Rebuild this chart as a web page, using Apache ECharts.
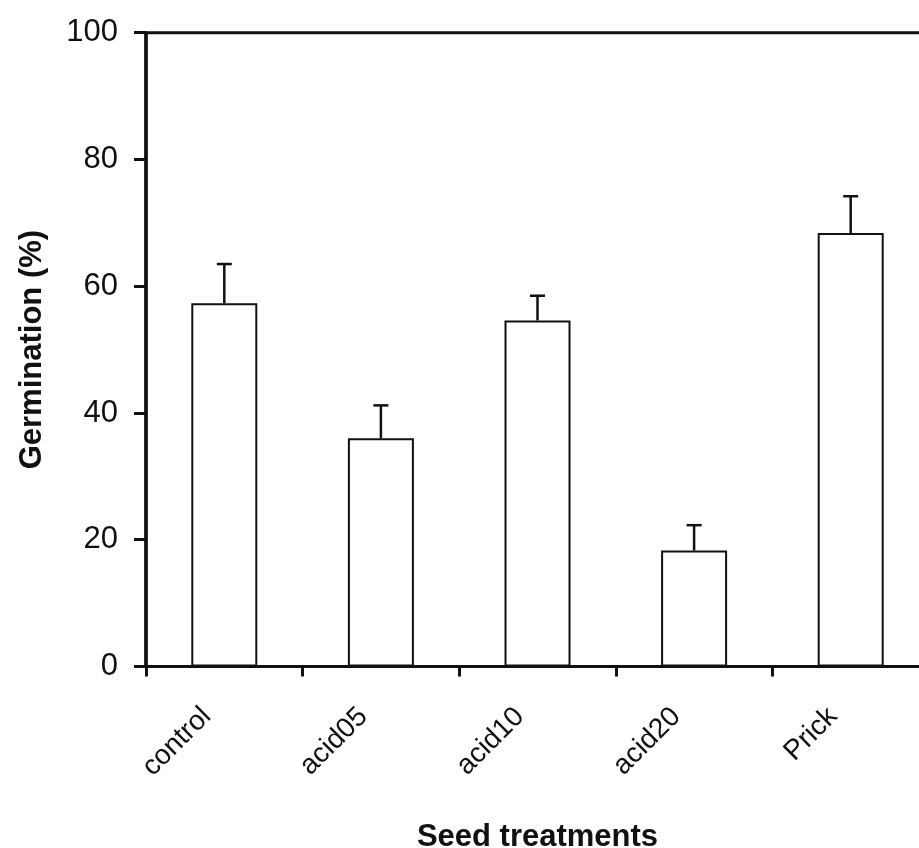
<!DOCTYPE html>
<html>
<head>
<meta charset="utf-8">
<script src="https://cdn.jsdelivr.net/npm/echarts@6/dist/echarts.min.js"></script>
<style>
html,body{margin:0;padding:0;background:#fff;overflow:hidden;}
#wrap{position:absolute;left:0;top:0;width:919px;height:848px;overflow:hidden;}
#chart{position:absolute;left:0;top:0;width:919px;height:848px;}
</style>
</head>
<body>
<div id="wrap"><div id="chart"></div></div>
<script>
var categories = ['control', 'acid05', 'acid10', 'acid20', 'Prick'];
var germination = [57.3, 36.0, 54.6, 18.3, 68.4];
var upperError = [6.2, 5.2, 3.9, 4.0, 5.8];
var yTicks = [0, 20, 40, 60, 80, 100];

var FONT = 'Liberation Sans, Arial, sans-serif';
var INK = '#111';

var errData = categories.map(function (c, i) {
  return [i, germination[i], germination[i] + upperError[i]];
});

var chart = echarts.init(document.getElementById('chart'), null, { width: 929, height: 848 });
chart.setOption({
  animation: false,
  backgroundColor: '#fff',
  grid: {
    left: 146, right: 0, top: 32.7, bottom: 181.5,
    outerBoundsMode: 'none',
    containLabel: false,
    show: true, borderColor: INK, borderWidth: 3, backgroundColor: 'transparent'
  },
  xAxis: {
    type: 'category',
    data: categories,
    name: 'Seed treatments',
    nameLocation: 'middle',
    nameGap: 155,
    nameTextStyle: { fontFamily: FONT, fontSize: 31, fontWeight: 'bold', color: INK },
    axisLine: { lineStyle: { color: INK, width: 3 } },
    axisTick: { show: true, length: 10, lineStyle: { color: INK, width: 3 } },
    axisLabel: {
      rotate: 45, margin: 28, padding: [0, 25, 0, 0],
      fontFamily: FONT, fontSize: 28, color: INK
    },
    splitLine: { show: false }
  },
  yAxis: {
    type: 'value',
    min: yTicks[0], max: yTicks[yTicks.length - 1], interval: yTicks[1] - yTicks[0],
    name: 'Germination (%)',
    nameLocation: 'middle',
    nameGap: 98,
    nameRotate: 90,
    nameTextStyle: { fontFamily: FONT, fontSize: 31, fontWeight: 'bold', color: INK },
    axisLine: { show: true, lineStyle: { color: INK, width: 3.5 } },
    axisTick: { show: true, length: 12, lineStyle: { color: INK, width: 3 } },
    axisLabel: { margin: 28, fontFamily: FONT, fontSize: 31, color: INK },
    splitLine: { show: false }
  },
  series: [
    {
      type: 'bar',
      data: germination,
      barWidth: 66,
      itemStyle: { color: '#fff', borderColor: INK, borderWidth: 2 },
      z: 2
    },
    {
      type: 'custom',
      data: errData,
      z: 3,
      renderItem: function (params, api) {
        var x = api.value(0);
        var base = api.coord([x, api.value(1)]);
        var top = api.coord([x, api.value(2)]);
        var half = 7.5;
        var style = { stroke: INK, lineWidth: 2.5 };
        return {
          type: 'group',
          children: [
            { type: 'line', shape: { x1: base[0], y1: base[1], x2: top[0], y2: top[1] }, style: style },
            { type: 'line', shape: { x1: top[0] - half, y1: top[1], x2: top[0] + half, y2: top[1] }, style: style }
          ]
        };
      }
    }
  ]
});
</script>
</body>
</html>
